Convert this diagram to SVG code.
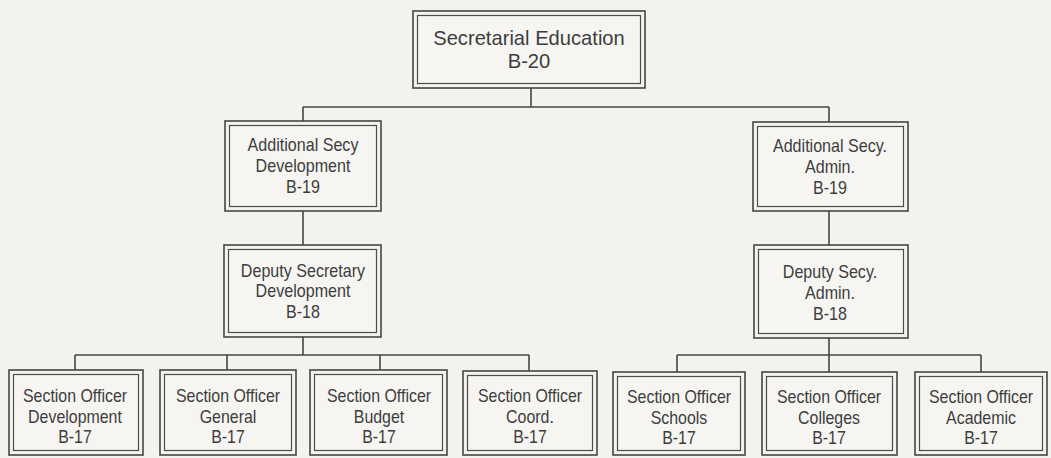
<svg xmlns="http://www.w3.org/2000/svg" width="1051" height="458" viewBox="0 0 1051 458">
  <style>
    .outer { fill: none; stroke: #454545; stroke-width: 1.6; }
    .inner { fill: #f6f5f2; stroke: #4d4d4d; stroke-width: 1.2; }
    .link { fill: none; stroke: #454545; stroke-width: 1.6; }
    .t { font-family: "Liberation Sans", Arial, sans-serif; font-size: 17.5px; fill: #3d3d3d; text-anchor: middle; }
    .top { font-size: 21px; }
  </style>
  <rect width="1051" height="458" fill="#f3f2ef"/>

  <!-- connectors -->
  <g id="connectors" class="link">
    <path d="M531 88V107M303 107H829M303 107V121M829 107V122"/>
    <path d="M303 211V245M829 211V245"/>
    <path d="M303 337V355M75 355H529M75 355V370M227 355V370M380 355V370M529 355V371"/>
    <path d="M829 338V355M677 355H981M677 355V372M829 355V372M981 355V372"/>
  </g>

  <!-- top level -->
  <g id="secretarial-education">
    <rect class="outer" x="413" y="11" width="232" height="77"/>
    <rect class="inner" x="417.5" y="15.5" width="223" height="68"/>
    <text class="t top" transform="translate(529 0) scale(0.96 1)"><tspan x="0" y="45">Secretarial Education</tspan><tspan x="0" y="68">B-20</tspan></text>
  </g>

  <!-- second level -->
  <g id="addl-secy-development">
    <rect class="outer" x="225" y="121" width="156" height="90"/>
    <rect class="inner" x="229.5" y="125.5" width="147" height="81"/>
    <text class="t" transform="translate(303 0) scale(0.92 1)"><tspan x="0" y="151">Additional Secy</tspan><tspan x="0" y="172">Development</tspan><tspan x="0" y="193">B-19</tspan></text>
  </g>
  <g id="addl-secy-admin">
    <rect class="outer" x="753" y="122" width="155" height="89"/>
    <rect class="inner" x="757.5" y="126.5" width="146" height="80"/>
    <text class="t" transform="translate(830 0) scale(0.92 1)"><tspan x="0" y="152">Additional Secy.</tspan><tspan x="0" y="173">Admin.</tspan><tspan x="0" y="194">B-19</tspan></text>
  </g>

  <!-- third level -->
  <g id="deputy-secretary-development">
    <rect class="outer" x="224" y="245" width="157" height="92"/>
    <rect class="inner" x="228.5" y="249.5" width="148" height="83"/>
    <text class="t" transform="translate(303 0) scale(0.92 1)"><tspan x="0" y="277">Deputy Secretary</tspan><tspan x="0" y="297">Development</tspan><tspan x="0" y="318">B-18</tspan></text>
  </g>
  <g id="deputy-secy-admin">
    <rect class="outer" x="754" y="245" width="154" height="93"/>
    <rect class="inner" x="758.5" y="249.5" width="145" height="84"/>
    <text class="t" transform="translate(830 0) scale(0.92 1)"><tspan x="0" y="278">Deputy Secy.</tspan><tspan x="0" y="299">Admin.</tspan><tspan x="0" y="320">B-18</tspan></text>
  </g>

  <!-- section officers -->
  <g id="so-development">
    <rect class="outer" x="9" y="370" width="134" height="85"/>
    <rect class="inner" x="13.5" y="374.5" width="125" height="76"/>
    <text class="t" transform="translate(75 0) scale(0.91 1)"><tspan x="0" y="402">Section Officer</tspan><tspan x="0" y="423">Development</tspan><tspan x="0" y="443">B-17</tspan></text>
  </g>
  <g id="so-general">
    <rect class="outer" x="160" y="370" width="136" height="85"/>
    <rect class="inner" x="164.5" y="374.5" width="127" height="76"/>
    <text class="t" transform="translate(228 0) scale(0.91 1)"><tspan x="0" y="402">Section Officer</tspan><tspan x="0" y="423">General</tspan><tspan x="0" y="443">B-17</tspan></text>
  </g>
  <g id="so-budget">
    <rect class="outer" x="310" y="370" width="137" height="85"/>
    <rect class="inner" x="314.5" y="374.5" width="128" height="76"/>
    <text class="t" transform="translate(379 0) scale(0.91 1)"><tspan x="0" y="402">Section Officer</tspan><tspan x="0" y="423">Budget</tspan><tspan x="0" y="443">B-17</tspan></text>
  </g>
  <g id="so-coord">
    <rect class="outer" x="463" y="371" width="134" height="84"/>
    <rect class="inner" x="467.5" y="375.5" width="125" height="75"/>
    <text class="t" transform="translate(530 0) scale(0.91 1)"><tspan x="0" y="402">Section Officer</tspan><tspan x="0" y="423">Coord.</tspan><tspan x="0" y="443">B-17</tspan></text>
  </g>
  <g id="so-schools">
    <rect class="outer" x="613" y="372" width="132" height="83"/>
    <rect class="inner" x="617.5" y="376.5" width="123" height="74"/>
    <text class="t" transform="translate(679 0) scale(0.91 1)"><tspan x="0" y="403">Section Officer</tspan><tspan x="0" y="424">Schools</tspan><tspan x="0" y="444">B-17</tspan></text>
  </g>
  <g id="so-colleges">
    <rect class="outer" x="762" y="372" width="135" height="83"/>
    <rect class="inner" x="766.5" y="376.5" width="126" height="74"/>
    <text class="t" transform="translate(829 0) scale(0.91 1)"><tspan x="0" y="403">Section Officer</tspan><tspan x="0" y="424">Colleges</tspan><tspan x="0" y="444">B-17</tspan></text>
  </g>
  <g id="so-academic">
    <rect class="outer" x="915" y="372" width="132" height="83"/>
    <rect class="inner" x="919.5" y="376.5" width="123" height="74"/>
    <text class="t" transform="translate(981 0) scale(0.91 1)"><tspan x="0" y="403">Section Officer</tspan><tspan x="0" y="424">Academic</tspan><tspan x="0" y="444">B-17</tspan></text>
  </g>
</svg>
